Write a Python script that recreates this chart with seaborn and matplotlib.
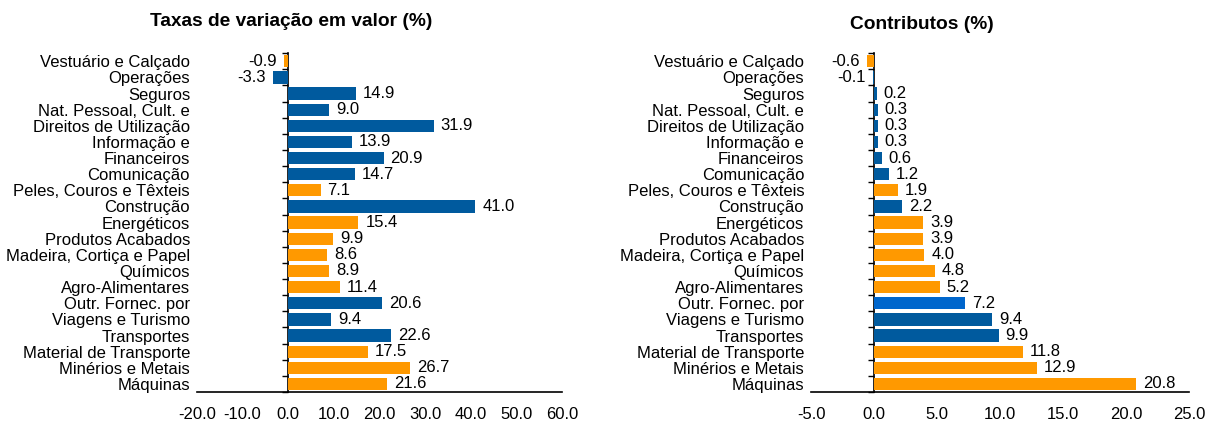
import numpy as np
import pandas as pd
import matplotlib
matplotlib.use("Agg")
import matplotlib.pyplot as plt
import seaborn as sns

# data (top to bottom)
categories = [
    "Vestuário e Calçado", "Operações", "Seguros", "Nat. Pessoal, Cult. e",
    "Direitos de Utilização", "Informação e", "Financeiros", "Comunicação",
    "Peles, Couros e Têxteis", "Construção", "Energéticos", "Produtos Acabados",
    "Madeira, Cortiça e Papel", "Químicos", "Agro-Alimentares", "Outr. Fornec. por",
    "Viagens e Turismo", "Transportes", "Material de Transporte",
    "Minérios e Metais", "Máquinas",
]
# "B" = goods (orange), "S" = services (blue)
group = ["B", "S", "S", "S", "S", "S", "S", "S", "B", "S", "B", "B",
         "B", "B", "B", "S", "S", "S", "B", "B", "B"]
taxas = [-0.9, -3.3, 14.9, 9.0, 31.9, 13.9, 20.9, 14.7, 7.1, 41.0, 15.4, 9.9,
         8.6, 8.9, 11.4, 20.6, 9.4, 22.6, 17.5, 26.7, 21.6]
contributos = [-0.6, -0.1, 0.2, 0.3, 0.3, 0.3, 0.6, 1.2, 1.9, 2.2, 3.9, 3.9,
               4.0, 4.8, 5.2, 7.2, 9.4, 9.9, 11.8, 12.9, 20.8]

ORANGE = "#FF9900"
BLUE = "#005A9E"
BRIGHT_BLUE = "#0066CC"
FS = 12

sns.set_style("white")
plt.rcParams["font.family"] = ["Liberation Sans", "DejaVu Sans"]
plt.rcParams["font.size"] = FS
plt.rcParams["text.color"] = "black"

fig = plt.figure(figsize=(12.07, 4.23), dpi=100)


def draw_panel(ax, values, palette, xlim, xticks):
    df = pd.DataFrame({"cat": categories, "val": values})
    sns.barplot(data=df, x="val", y="cat", hue="cat", palette=palette,
                legend=False, orient="h", width=0.76, saturation=1,
                edgecolor="none", linewidth=0, ax=ax)
    for c in ax.containers:
        ax.bar_label(c, fmt="%.1f", padding=5, fontsize=FS, color="black")
    ax.set_xlim(*xlim)
    ax.set_ylim(20.5, -0.5)
    ax.set_xticks(xticks)
    ax.set_xticklabels([f"{t:.1f}" for t in xticks])
    ax.set_xlabel("")
    ax.set_ylabel("")
    for s in ["top", "right", "left"]:
        ax.spines[s].set_visible(False)
    ax.spines["bottom"].set_color("black")
    ax.spines["bottom"].set_linewidth(1.2)
    ax.tick_params(axis="x", direction="out", length=3, width=1,
                   color="black", pad=8, labelsize=FS, labelcolor="black")
    ax.tick_params(axis="y", length=0, pad=5, labelsize=FS, labelcolor="black")
    # vertical axis line at zero with boundary ticks
    loc = (0 - xlim[0]) / (xlim[1] - xlim[0])
    sec = ax.secondary_yaxis(loc)
    sec.set_yticks(np.arange(-0.5, len(categories), 1.0))
    sec.set_yticklabels([])
    sec.tick_params(axis="y", direction="out", length=4, width=1, color="black")
    sec.spines["left"].set_color("black")
    sec.spines["left"].set_linewidth(1.2)


pal_left = {c: (ORANGE if g == "B" else BLUE) for c, g in zip(categories, group)}
pal_right = dict(pal_left)
pal_right["Outr. Fornec. por"] = BRIGHT_BLUE

ax1 = fig.add_axes([0.1632, 0.0733, 0.3024, 0.801])
draw_panel(ax1, taxas, pal_left, (-20, 60), [-20, -10, 0, 10, 20, 30, 40, 50, 60])

ax2 = fig.add_axes([0.672, 0.0733, 0.313, 0.801])
draw_panel(ax2, contributos, pal_right, (-5, 25), [-5, 0, 5, 10, 15, 20, 25])

fig.text(0.241, 0.948, "Taxas de variação em valor (%)", ha="center",
         va="center", fontsize=13.8, fontweight="bold")
fig.text(0.764, 0.943, "Contributos (%)", ha="center", va="center",
         fontsize=13.8, fontweight="bold")

fig.savefig("out.png", dpi=100)
